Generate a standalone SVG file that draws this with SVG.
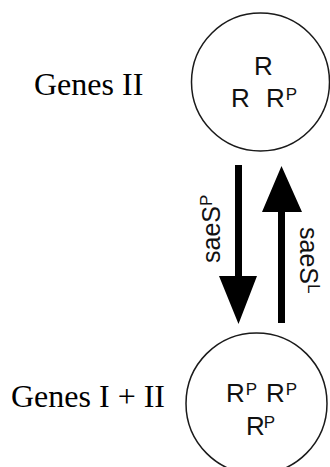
<svg xmlns="http://www.w3.org/2000/svg" width="330" height="467" viewBox="0 0 330 467">
<style>
.circ{fill:#fff;stroke:#1a1a1a;stroke-width:1.5}
.lbl{font-family:"Liberation Serif","Times New Roman",serif;font-size:32px;fill:#000}
.r{font-family:"Liberation Sans",Arial,Helvetica,sans-serif;font-size:26px;fill:#111}
.a{font-family:"Liberation Sans",Arial,Helvetica,sans-serif;font-size:25px;fill:#111}
.sup{font-size:17px}
.arrow{fill:#000}
</style>
<rect width="330" height="467" fill="#fff"/>
<g id="genesII">
  <text class="lbl" x="34" y="95">Genes II</text>
  <circle class="circ" cx="260.5" cy="82" r="69"/>
  <text class="r" x="254" y="75">R</text>
  <text class="r" x="231" y="107">R</text>
  <text class="r" x="266" y="107">R<tspan class="sup" dx="1" dy="-7">P</tspan></text>
</g>
<g id="genesI_II">
  <text class="lbl" x="11" y="407">Genes I + II</text>
  <circle class="circ" cx="256.5" cy="403.5" r="70.5"/>
  <text class="r" x="226" y="402">R<tspan class="sup" dx="1" dy="-7">P</tspan></text>
  <text class="r" x="266" y="402">R<tspan class="sup" dx="1" dy="-7">P</tspan></text>
  <text class="r" x="246" y="435">R<tspan class="sup" dx="-1" dy="-7">P</tspan></text>
</g>
<g id="connectors">
  <path class="arrow" d="M235,165 H242 V276 H257 L238.5,324 L219,276 H235 Z"/>
  <path class="arrow" d="M278,323 H285 V212 H302 L281.5,166 L262,212 H278 Z"/>
  <text class="a" x="220" y="263" transform="rotate(-90 220 263)">saeS<tspan class="sup" dy="-8">P</tspan></text>
  <text class="a" x="300" y="227" transform="rotate(90 300 227)">saeS<tspan class="sup" dy="-8">L</tspan></text>
</g>
</svg>
